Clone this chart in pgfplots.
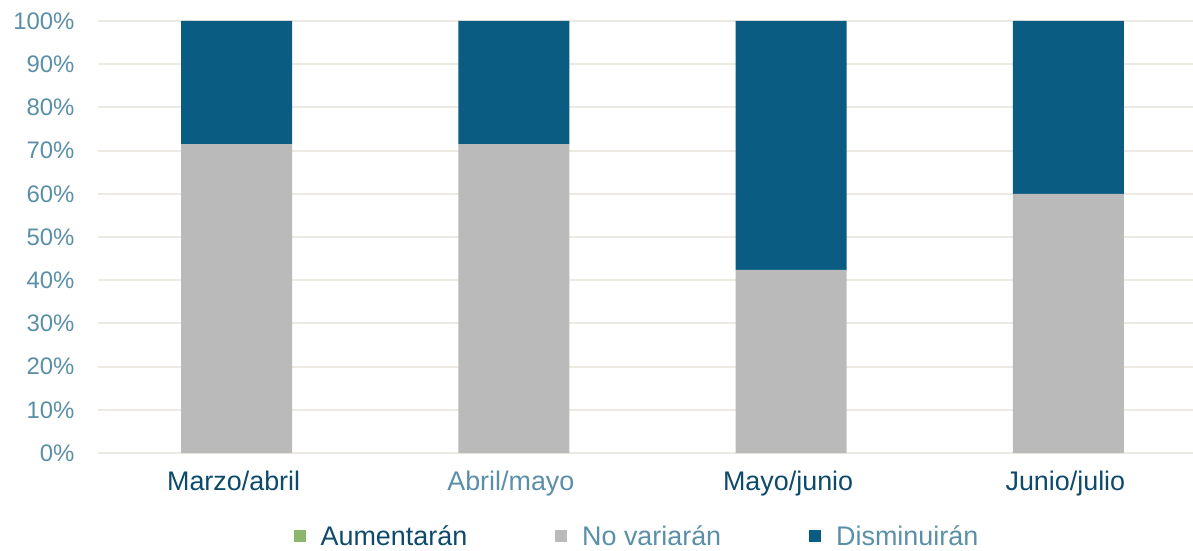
\documentclass[border=0pt]{standalone}
\usepackage{pgfplots}
\pgfplotsset{compat=1.18}
\usepackage{fontspec}
\setmainfont{Liberation Sans}

\definecolor{disblue}{HTML}{0B5C82}
\definecolor{novgrey}{HTML}{BBBABA}
\definecolor{aumgreen}{HTML}{8CB66C}
\definecolor{tickblue}{HTML}{5A8FA8}
\definecolor{darklab}{HTML}{0D4A6B}
\definecolor{gridc}{HTML}{EDE9E3}

\begin{document}
\begin{tikzpicture}
  \useasboundingbox (-98bp,-98bp) rectangle (1095bp,453bp);
  \begin{axis}[
      scale only axis,
      width=1109bp, height=432bp,
      ybar stacked, bar width=111bp,
      xmin=-0.5, xmax=3.5,
      ymin=0, ymax=100,
      xtick={0,1,2,3},
      xticklabels={
        \textcolor{darklab}{Marzo/abril},
        \textcolor{tickblue}{Abril/mayo},
        \textcolor{darklab}{Mayo/junio},
        \textcolor{darklab}{Junio/julio}},
      ytick={0,10,...,100},
      yticklabels={0\%,10\%,20\%,30\%,40\%,50\%,60\%,70\%,80\%,90\%,100\%},
      yticklabel style={font=\fontsize{24}{28}\selectfont, text=tickblue, xshift=-20bp},
      xticklabel style={font=\fontsize{27}{30}\selectfont, yshift=-14bp, xshift=-3bp},
      tick style={draw=none},
      axis line style={draw=none},
      ymajorgrids,
      grid style={gridc, line width=2bp},
      legend columns=3,
      legend style={at={(0.486,-0.192)}, anchor=center, draw=none, fill=none,
        font=\fontsize{27}{30}\selectfont,
        /tikz/every odd column/.append style={column sep=13bp},
        /tikz/every even column/.append style={column sep=86bp}},
      legend image code/.code={\fill[#1, draw=none] (0bp,-6bp) rectangle (12bp,6bp);},
    ]
    \addplot[fill=aumgreen, draw=none] coordinates {(0,0) (1,0) (2,0) (3,0)};
    \addlegendentry{\textcolor{darklab}{Aumentarán}}
    \addplot[fill=novgrey, draw=none] coordinates {(0,71.5) (1,71.5) (2,42.4) (3,60)};
    \addlegendentry{\textcolor{tickblue}{No variarán}}
    \addplot[fill=disblue, draw=none] coordinates {(0,28.5) (1,28.5) (2,57.6) (3,40)};
    \addlegendentry{\textcolor{tickblue}{Disminuirán}}
  \end{axis}
\end{tikzpicture}
\end{document}
